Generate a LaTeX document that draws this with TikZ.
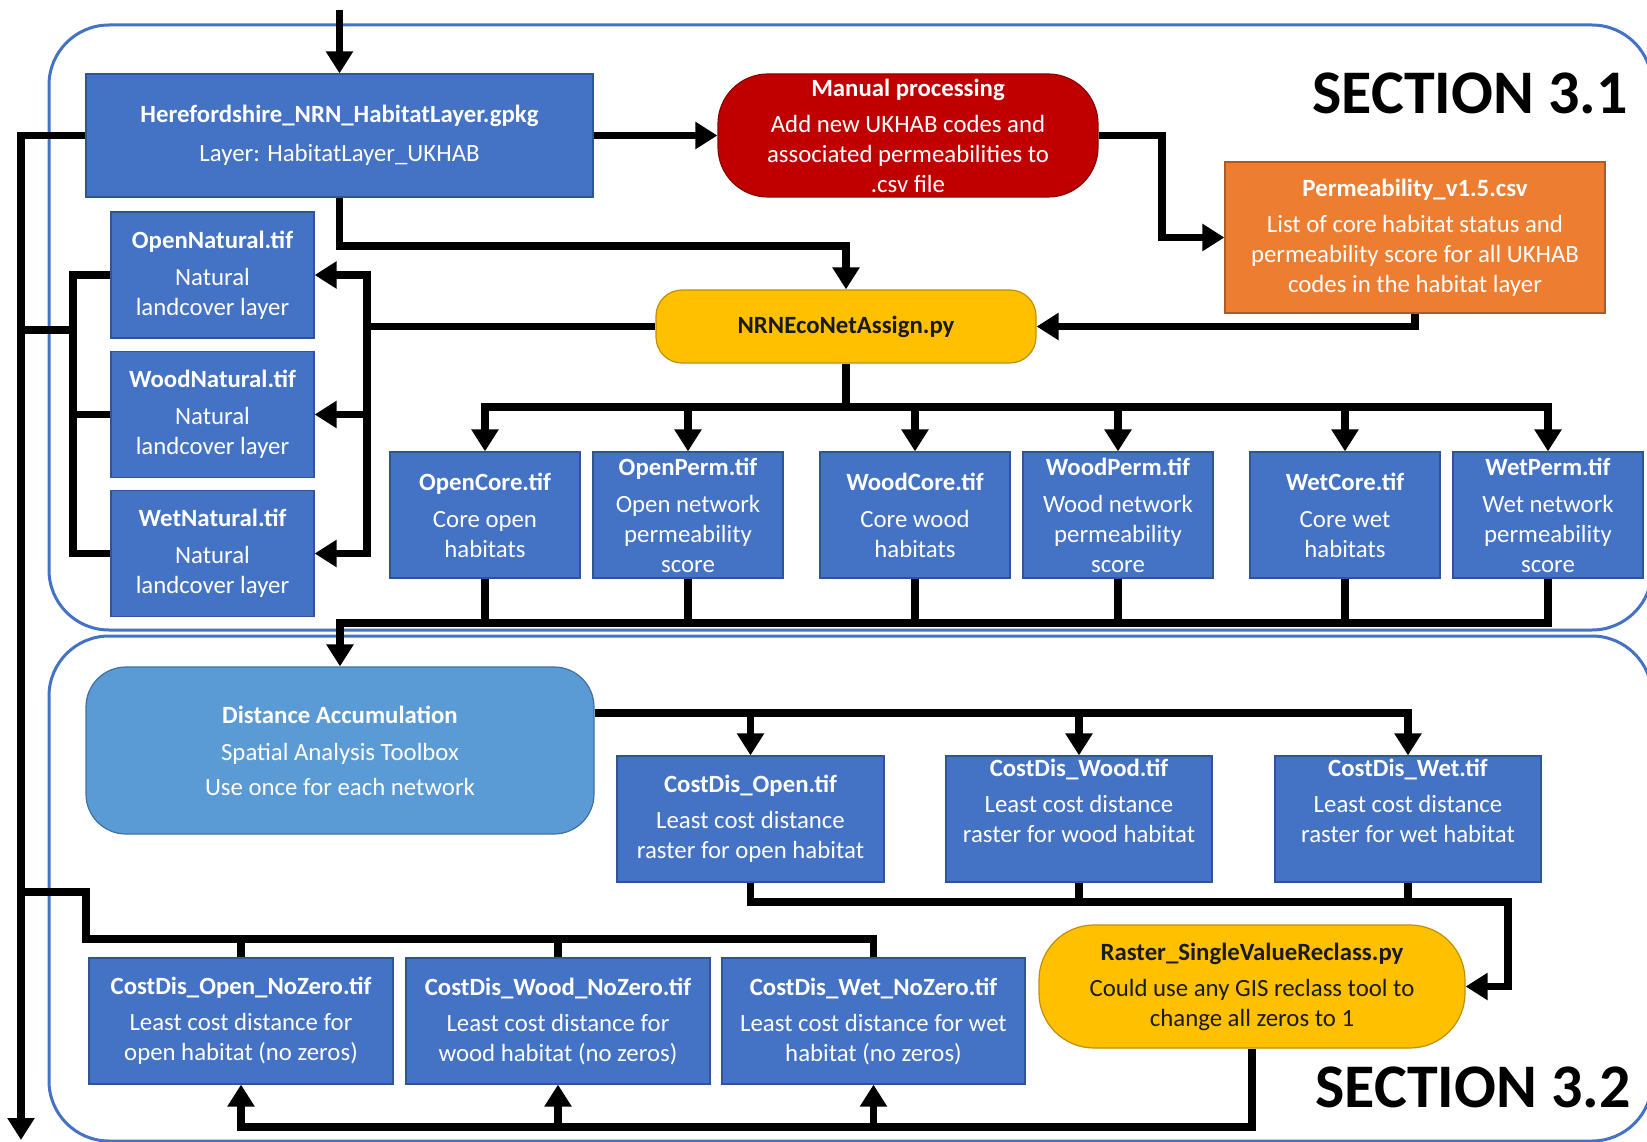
\documentclass[tikz,border=0pt]{standalone}
\usepackage{fontspec}
\setmainfont{Carlito}
\usetikzlibrary{arrows.meta}
\definecolor{boxblue}{HTML}{4472C4}
\definecolor{boxedge}{HTML}{2F5597}
\definecolor{lightblue}{HTML}{5B9BD5}
\definecolor{lightedge}{HTML}{41719C}
\definecolor{manred}{HTML}{C00000}
\definecolor{rededge}{HTML}{8B0000}
\definecolor{orangebox}{HTML}{ED7D31}
\definecolor{orangeedge}{HTML}{AE5A21}
\definecolor{yellowbox}{HTML}{FFC000}
\definecolor{yellowedge}{HTML}{BF9000}
\definecolor{framecol}{HTML}{4472C4}
\definecolor{darktext}{HTML}{1A1A1A}
\begin{document}
\begin{tikzpicture}[x=1pt,y=-1pt,
  base/.style={rectangle, align=center, inner sep=0pt, line width=1.2pt,
    font=\fontsize{24.8}{30}\selectfont},
  sz/.style 2 args={minimum width=#1pt, minimum height=#2pt},
  bluebox/.style={base, fill=boxblue, draw=boxedge, text=white},
  lightbox/.style={base, fill=lightblue, draw=lightedge, text=white, rounded corners=40pt},
  redbox/.style={base, fill=manred, draw=rededge, text=white, rounded corners=50pt},
  orangebox/.style={base, fill=orangebox, draw=orangeedge, text=white},
  yellowbox/.style={base, fill=yellowbox, draw=yellowedge, text=darktext},
  seclabel/.style={inner sep=0pt, font=\fontsize{62}{70}\selectfont\bfseries, text=black},
  frame/.style={draw=framecol, line width=3pt, rounded corners=60pt},
  conn/.style={line width=7.5pt, draw=black},
  arr/.style={conn, -{Triangle[length=22pt,width=26pt]}},
]
\useasboundingbox (0,0) rectangle (1647,1142);
\clip (0,0) rectangle (1647,1142);
\fill[white] (0,0) rectangle (1647,1142);

% section frames
\draw[frame] (49,25) rectangle (1652,630);
\draw[frame] (49,636) rectangle (1652,1141);

\node[seclabel] (sec1) at (1470,93) {SECTION 3.1};
\node[seclabel] (sec2) at (1473,1087) {SECTION 3.2};

% section 3.1 nodes
\node[bluebox, sz={507}{123}] (heref) at (339.5,135.5)
  {\textbf{Herefordshire\_NRN\_HabitatLayer.gpkg}\\[9pt] Layer: HabitatLayer\_UKHAB};
\node[redbox, sz={380}{123}] (manual) at (908,135.5)
  {\textbf{Manual processing}\\[6pt] Add new UKHAB codes and\\ associated permeabilities to\\ .csv file};
\node[orangebox, sz={380}{151}] (perm) at (1415,237.5)
  {\textbf{Permeability\_v1.5.csv}\\[6pt] List of core habitat status and\\ permeability score for all UKHAB\\ codes in the habitat layer};
\node[yellowbox, sz={380}{73}, rounded corners=26pt] (nrn) at (846,326.5)
  {\textbf{NRNEcoNetAssign.py}};

\node[bluebox, sz={203}{126}] (openNat) at (212.5,275)
  {\textbf{OpenNatural.tif}\\[7pt] Natural\\ landcover layer};
\node[bluebox, sz={203}{126}] (woodNat) at (212.5,414.5)
  {\textbf{WoodNatural.tif}\\[7pt] Natural\\ landcover layer};
\node[bluebox, sz={203}{126}] (wetNat) at (212.5,553.5)
  {\textbf{WetNatural.tif}\\[7pt] Natural\\ landcover layer};

\node[bluebox, sz={190}{126}] (openCore) at (485,515)
  {\textbf{OpenCore.tif}\\[7pt] Core open\\ habitats};
\node[bluebox, sz={190}{126}] (openPerm) at (688,515)
  {\textbf{OpenPerm.tif}\\[7pt] Open network\\ permeability\\ score};
\node[bluebox, sz={190}{126}] (woodCore) at (915,515)
  {\textbf{WoodCore.tif}\\[7pt] Core wood\\ habitats};
\node[bluebox, sz={190}{126}] (woodPerm) at (1118,515)
  {\textbf{WoodPerm.tif}\\[7pt] Wood network\\ permeability\\ score};
\node[bluebox, sz={190}{126}] (wetCore) at (1345,515)
  {\textbf{WetCore.tif}\\[7pt] Core wet\\ habitats};
\node[bluebox, sz={190}{126}] (wetPerm) at (1548,515)
  {\textbf{WetPerm.tif}\\[7pt] Wet network\\ permeability\\ score};

% section 3.2 nodes
\node[lightbox, sz={508}{167}] (distAcc) at (340,750.5)
  {\textbf{Distance Accumulation}\\[7pt] Spatial Analysis Toolbox\\[5pt] Use once for each network};
\node[bluebox, sz={267}{126}] (cdOpen) at (750.5,819)
  {\textbf{CostDis\_Open.tif}\\[6pt] Least cost distance\\ raster for open habitat};
\node[bluebox, sz={266}{126}] (cdWood) at (1079,819)
  {\textbf{CostDis\_Wood.tif}\\[6pt] Least cost distance\\ raster for wood habitat\\[6pt]\mbox{}};
\node[bluebox, sz={266}{126}] (cdWet) at (1408,819)
  {\textbf{CostDis\_Wet.tif}\\[6pt] Least cost distance\\ raster for wet habitat\\[6pt]\mbox{}};
\node[yellowbox, sz={426}{123}, rounded corners=55pt] (raster) at (1252,986.5)
  {\textbf{Raster\_SingleValueReclass.py}\\[6pt] Could use any GIS reclass tool to\\ change all zeros to 1};
\node[bluebox, sz={304}{126}] (nzOpen) at (241,1021)
  {\textbf{CostDis\_Open\_NoZero.tif}\\[6pt] Least cost distance for\\ open habitat (no zeros)};
\node[bluebox, sz={304}{126}] (nzWood) at (558,1021)
  {\textbf{CostDis\_Wood\_NoZero.tif}\\[6pt] Least cost distance for\\ wood habitat (no zeros)};
\node[bluebox, sz={303}{126}] (nzWet) at (873.5,1021)
  {\textbf{CostDis\_Wet\_NoZero.tif}\\[6pt] Least cost distance for wet\\ habitat (no zeros)};

% helper coordinates
\coordinate (topIn) at (339.5,10);
\coordinate (mx) at (1162,0);
\coordinate (hy) at (0,246);
\coordinate (natx) at (367,0);
\coordinate (brk) at (73,0);
\coordinate (mainx) at (21,0);
\coordinate (by) at (0,330);
\coordinate (mainEnd) at (21,1140);
\coordinate (busA) at (0,407);
\coordinate (busB) at (0,623);
\coordinate (daY) at (0,713);
\coordinate (cdY) at (0,902);
\coordinate (rx) at (1508,0);
\coordinate (nzY) at (0,1127);
\coordinate (nzT) at (0,939);
\coordinate (lx) at (86,0);
\coordinate (ly) at (0,892);

% connectors, section 3.1
\draw[arr] (topIn) -- (topIn |- heref.north);
\draw[arr] (heref.east) -- (manual.west);
\draw[arr] (manual.east) -- (mx |- manual.east) |- (perm.west);
\draw[arr] (perm.south) |- (nrn.east);
\draw[arr] (heref.south) -- (heref.south |- hy) -| (nrn.north);

\draw[arr] (nrn.west) -- (natx |- nrn.west) |- (openNat.east);
\draw[arr] (natx |- nrn.west) |- (wetNat.east);
\draw[arr] (natx |- woodNat.east) -- (woodNat.east);

\draw[conn] (openNat.west) -| (brk |- wetNat.west) -- (wetNat.west);
\draw[conn] (woodNat.west) -- (brk |- woodNat.west);
\draw[conn] (brk |- by) -- (mainx |- by);
\draw[arr] (heref.west) -| (mainEnd);

\draw[conn] (nrn.south) -- (nrn.south |- busA);
\draw[arr] (nrn.south |- busA) -| (openCore.north);
\draw[arr] (nrn.south |- busA) -| (wetPerm.north);
\draw[arr] (openPerm.north |- busA) -- (openPerm.north);
\draw[arr] (woodCore.north |- busA) -- (woodCore.north);
\draw[arr] (woodPerm.north |- busA) -- (woodPerm.north);
\draw[arr] (wetCore.north |- busA) -- (wetCore.north);

\draw[arr] (wetPerm.south) |- (distAcc.north |- busB) -- (distAcc.north);
\draw[conn] (openCore.south) -- (openCore.south |- busB);
\draw[conn] (openPerm.south) -- (openPerm.south |- busB);
\draw[conn] (woodCore.south) -- (woodCore.south |- busB);
\draw[conn] (woodPerm.south) -- (woodPerm.south |- busB);
\draw[conn] (wetCore.south) -- (wetCore.south |- busB);

% connectors, section 3.2
\draw[arr] (distAcc.east |- daY) -| (cdWet.north);
\draw[arr] (cdOpen.north |- daY) -- (cdOpen.north);
\draw[arr] (cdWood.north |- daY) -- (cdWood.north);

\draw[arr] (cdOpen.south) |- (rx |- cdY) |- (raster.east);
\draw[conn] (cdWood.south) -- (cdWood.south |- cdY);
\draw[conn] (cdWet.south) -- (cdWet.south |- cdY);

\draw[arr] (raster.south) |- (nzOpen.south |- nzY) -- (nzOpen.south);
\draw[arr] (nzWood.south |- nzY) -- (nzWood.south);
\draw[arr] (nzWet.south |- nzY) -- (nzWet.south);

\draw[conn] (nzWet.north) |- (lx |- nzT) |- (mainx |- ly);
\draw[conn] (nzOpen.north) -- (nzOpen.north |- nzT);
\draw[conn] (nzWood.north) -- (nzWood.north |- nzT);
\end{tikzpicture}
\end{document}
